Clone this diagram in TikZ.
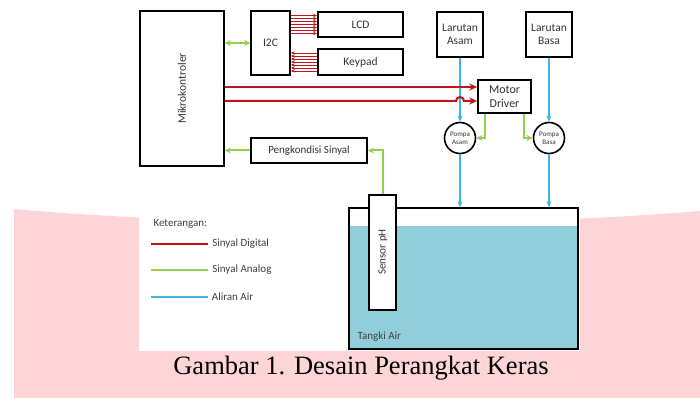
\documentclass[tikz,border=0pt]{standalone}
\usepackage{fontspec}
\setmainfont{Carlito}
\newfontfamily\gambarfont{Liberation Serif}
\usetikzlibrary{arrows.meta}
\definecolor{merah}{HTML}{C0141B}
\definecolor{hijau}{HTML}{92D050}
\definecolor{biru}{HTML}{3CB4E5}
\definecolor{airtangki}{HTML}{92CDDC}
\definecolor{latar}{HTML}{FDD5D7}
\tikzset{
  blok/.style={draw, line width=1.6pt, fill=white, inner sep=1pt, align=center, font=\fontsize{11.5}{13}\selectfont, text=black!80},
  pompa/.style={draw, circle, line width=1.6pt, fill=white, minimum size=31pt, inner sep=0pt, align=center, font=\fontsize{7}{8}\selectfont, text=black!80},
  digital/.style={draw=merah, line width=2pt},
  bus/.style={draw=merah, line width=0.5pt},
  analog/.style={draw=hijau, line width=2pt},
  air/.style={draw=biru, line width=1.2pt},
  ket/.style={anchor=west, font=\fontsize{11}{12}\selectfont, text=black!75}
}
\begin{document}
\begin{tikzpicture}[x=1pt, y=-1pt]
  \useasboundingbox (0,0) rectangle (700,398);

  % 1. latar belakang
  \fill[latar] (14,209) .. controls (200,226) and (500,228) .. (700,211) -- (700,398) -- (14,398) -- cycle;
  \fill[white] (139,0) rectangle (580,351);

  % 2. blok utama
  \node[blok, minimum width=84pt, minimum height=155pt, font=\fontsize{11.5}{12}\selectfont] (mikro) at (182,88.5) {\rotatebox{90}{Mikrokontroler}};
  \node[blok, minimum width=39pt, minimum height=64pt] (i2c) at (270.5,43) {I2C};
  \node[blok, minimum width=85pt, minimum height=25pt] (lcd) at (360.5,24.5) {LCD};
  \node[blok, minimum width=85pt, minimum height=26pt] (keypad) at (360.5,62) {Keypad};
  \node[blok, minimum width=46pt, minimum height=45pt] (asam) at (460,34.5) {Larutan\\Asam};
  \node[blok, minimum width=46pt, minimum height=45pt] (basa) at (549,34.5) {Larutan\\Basa};
  \node[blok, minimum width=53pt, minimum height=33pt, font=\fontsize{12}{13.5}\selectfont] (driver) at (504.5,96.5) {Motor\\Driver};
  \node[pompa] (pasam) at (460,138) {Pompa\\Asam};
  \node[pompa] (pbasa) at (549,138) {Pompa\\Basa};
  \node[blok, minimum width=116pt, minimum height=25pt, font=\fontsize{11}{12}\selectfont] (kondisi) at (309,150.5) {Pengkondisi Sinyal};

  % 3. tangki dan sensor
  \fill[airtangki] (349,226) rectangle (578,349);
  \node[draw, line width=1.6pt, minimum width=229pt, minimum height=141pt] (tangki) at (463.5,278.5) {};
  \node[anchor=west, font=\fontsize{11}{12}\selectfont, text=black!75] (lbltangki) at (354,337) {Tangki Air};
  \node[blok, minimum width=27pt, minimum height=115pt, font=\fontsize{11}{12}\selectfont] (sensor) at (382.5,252.5) {};
  \node[font=\fontsize{11}{12}\selectfont, text=black!80] (lblsensor) at (383,252) {\rotatebox{90}{Sensor pH}};

  % 4. aliran air
  \draw[air, -{Stealth[length=6pt,width=5pt]}] (asam.south) -- (pasam.north);
  \draw[air, -{Stealth[length=6pt,width=5pt]}] (basa.south) -- (pbasa.north);
  \draw[air, -{Stealth[length=6pt,width=5pt]}] (pasam.south) -- (pasam.south |- tangki.north);
  \draw[air, -{Stealth[length=6pt,width=5pt]}] (pbasa.south) -- (pbasa.south |- tangki.north);

  % 5. sinyal digital
  \coordinate (d1) at (0,87);
  \coordinate (d2) at (0,101);
  \coordinate (hop) at (456,101);
  \draw[digital, -{Stealth[length=8pt,width=7pt]}] (mikro.east |- d1) -- (driver.west |- d1);
  \draw[digital, -{Stealth[length=8pt,width=7pt]}] (mikro.east |- d2) -- (hop) arc (180:0:4pt) -- (driver.west |- d2);
  \foreach \k in {0,...,6} {
    \coordinate (b\k) at (0,{15.5+3*\k});
    \coordinate (k\k) at (0,{53+3*\k});
    \draw[bus, -{Stealth[length=4pt,width=3pt]}] (i2c.east |- b\k) -- (lcd.west |- b\k);
    \draw[bus, {Stealth[length=4pt,width=3pt]}-] (i2c.east |- k\k) -- (keypad.west |- k\k);
  }

  % 6. sinyal analog
  \draw[analog, {Stealth[length=6pt,width=6pt]}-{Stealth[length=6pt,width=6pt]}] (mikro.east |- i2c.west) -- (i2c.west);
  \draw[analog, -{Stealth[length=6pt,width=6pt]}] ([xshift=8pt]driver.south west) |- (pasam.east);
  \draw[analog, -{Stealth[length=6pt,width=6pt]}] ([xshift=-8pt]driver.south east) |- (pbasa.west);
  \draw[analog, -{Stealth[length=6pt,width=6pt]}] (sensor.north) |- (kondisi.east);
  \draw[analog, -{Stealth[length=6pt,width=6pt]}] (kondisi.west) -- (mikro.east |- kondisi.west);

  % 7. keterangan
  \node[ket] (judulket) at (150,224) {Keterangan:};
  \coordinate (g1) at (151,244);
  \coordinate (g2) at (151,270);
  \coordinate (g3) at (151,297);
  \draw[digital] (g1) -- ++(57,0) node[ket] (kdigital) {Sinyal Digital};
  \draw[analog] (g2) -- ++(57,0) node[ket] (kanalog) {Sinyal Analog};
  \draw[air] (g3) -- ++(57,0) node[ket] (kair) {Aliran Air};

  % 8. judul gambar
  \node[font=\gambarfont\fontsize{26.5}{30}\selectfont] (judul) at (361,368) {Gambar 1. Desain Perangkat Keras};
\end{tikzpicture}
\end{document}
